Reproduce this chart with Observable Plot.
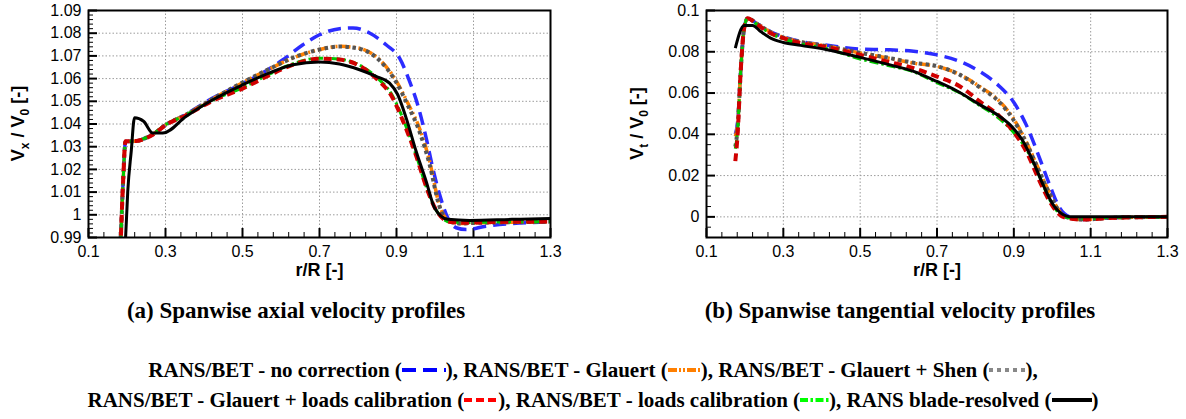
<!DOCTYPE html>
<html><head><meta charset="utf-8">
<script src="https://cdn.jsdelivr.net/npm/d3@7"></script>
<script src="https://cdn.jsdelivr.net/npm/@observablehq/plot@0.6"></script>
<style>
body{margin:0;background:#fff;}
#wrap{position:relative;width:1186px;height:419px;overflow:hidden;background:#fff;}
#left{position:absolute;left:0;top:0;}
#right{position:absolute;left:590px;top:0;}
.cap{position:absolute;font-family:"Liberation Serif","Times New Roman",serif;font-weight:bold;font-size:23px;white-space:nowrap;transform:translateX(-50%);line-height:26px;}
.leg{position:absolute;left:0;width:1186px;text-align:center;font-family:"Liberation Serif","Times New Roman",serif;font-weight:bold;font-size:21px;white-space:nowrap;line-height:26px;}
.leg svg{vertical-align:middle;position:relative;top:-2px;}
</style></head><body>
<div id="wrap">
  <div id="left"></div>
  <div id="right"></div>
  <div class="cap" style="left:296px;top:298px">(a) Spanwise axial velocity profiles</div>
  <div class="cap" style="left:900px;top:298px">(b) Spanwise tangential velocity profiles</div>
  <div class="leg" id="leg1" style="top:357px"></div>
  <div class="leg" id="leg2" style="top:387px"></div>
</div>
<script>
// ---------- Tick values & labels ----------
const xTicks = [0.1, 0.3, 0.5, 0.7, 0.9, 1.1, 1.3];
const xTickLabels = ["0.1", "0.3", "0.5", "0.7", "0.9", "1.1", "1.3"];
const axYTicks = [0.99, 1.00, 1.01, 1.02, 1.03, 1.04, 1.05, 1.06, 1.07, 1.08, 1.09];
const axYTickLabels = ["0.99", "1", "1.01", "1.02", "1.03", "1.04", "1.05", "1.06", "1.07", "1.08", "1.09"];
const tgYTicks = [0, 0.02, 0.04, 0.06, 0.08, 0.1];
const tgYTickLabels = ["0", "0.02", "0.04", "0.06", "0.08", "0.1"];

// ---------- Series names ----------
const seriesNames = [
  "RANS/BET - no correction",
  "RANS/BET - Glauert",
  "RANS/BET - Glauert + Shen",
  "RANS/BET - Glauert + loads calibration",
  "RANS/BET - loads calibration",
  "RANS blade-resolved"
];

// ---------- (a) Axial velocity Vx/V0 ----------
const axR_noCorr = [0.183,0.190,0.196,0.224,0.267,0.302,0.350,0.420,0.488,0.544,0.605,0.657,0.700,0.752,0.787,0.830,0.873,0.908,0.934,0.955,0.977,0.994,1.012,1.033,1.055,1.081,1.133,1.302];
const axV_noCorr = [0.985,1.015,1.0322,1.0325,1.0355,1.0398,1.0440,1.0512,1.0568,1.0617,1.0683,1.0749,1.0793,1.0820,1.0823,1.0801,1.0749,1.0690,1.0588,1.0485,1.0339,1.0207,1.0089,0.9987,0.9943,0.9935,0.9950,0.9969];

const axR_glauert = [0.183,0.190,0.196,0.224,0.267,0.302,0.350,0.420,0.500,0.570,0.630,0.700,0.752,0.800,0.856,0.900,0.930,0.960,0.986,1.011,1.037,1.070,1.100,1.200,1.300];
const axV_glauert = [0.985,1.015,1.0322,1.0325,1.0355,1.0398,1.0438,1.0508,1.0582,1.0642,1.0690,1.0728,1.0742,1.0735,1.0683,1.0588,1.0490,1.0380,1.0236,1.0045,0.9972,0.9962,0.9964,0.9967,0.9970];

const axR_glShen = [0.183,0.190,0.196,0.224,0.267,0.302,0.350,0.420,0.500,0.570,0.630,0.700,0.752,0.800,0.856,0.900,0.930,0.960,0.986,1.011,1.037,1.070,1.100,1.200,1.300];
const axV_glShen = [0.985,1.015,1.0322,1.0325,1.0355,1.0398,1.0438,1.0508,1.0583,1.0643,1.0691,1.0728,1.0741,1.0733,1.0680,1.0582,1.0480,1.0365,1.0222,1.0040,0.9970,0.9962,0.9964,0.9967,0.9970];

const axR_glLoads = [0.183,0.190,0.196,0.224,0.267,0.302,0.350,0.420,0.500,0.570,0.630,0.700,0.750,0.800,0.852,0.886,0.920,0.950,0.980,1.000,1.040,1.080,1.150,1.300];
const axV_glLoads = [0.985,1.015,1.0324,1.0325,1.0353,1.0397,1.0435,1.0500,1.0556,1.0615,1.0660,1.0688,1.0684,1.0660,1.0593,1.0527,1.0400,1.0265,1.0110,1.0030,0.9968,0.9965,0.9968,0.9970];

const axR_loads = [0.183,0.190,0.196,0.224,0.267,0.302,0.350,0.420,0.500,0.570,0.630,0.700,0.750,0.800,0.852,0.886,0.920,0.950,0.980,1.000,1.040,1.080,1.150,1.300];
const axV_loads = [0.985,1.015,1.0322,1.0326,1.0355,1.0399,1.0437,1.0503,1.0560,1.0620,1.0665,1.0690,1.0686,1.0663,1.0600,1.0535,1.0410,1.0268,1.0110,1.0030,0.9968,0.9966,0.9968,0.9970];

const axR_bladeRes = [0.195,0.202,0.211,0.2195,0.243,0.267,0.293,0.354,0.423,0.501,0.570,0.631,0.700,0.752,0.804,0.847,0.882,0.903,0.925,0.951,0.977,0.999,1.033,1.090,1.200,1.300];
const axV_bladeRes = [0.985,1.0104,1.028,1.0427,1.0412,1.036,1.036,1.0434,1.0507,1.0573,1.0625,1.0661,1.0673,1.0664,1.0639,1.061,1.058,1.053,1.0427,1.028,1.0148,1.003,0.998,0.9975,0.998,0.9984];

// ---------- (b) Tangential velocity Vt/V0 ----------
const tgR_noCorr = [0.175,0.181,0.189,0.198,0.207,0.233,0.267,0.300,0.345,0.414,0.500,0.570,0.639,0.700,0.760,0.811,0.863,0.898,0.932,0.967,0.993,1.019,1.045,1.080,1.150,1.300];
const tgV_noCorr = [0.040,0.046,0.0705,0.0915,0.0960,0.0935,0.0897,0.0873,0.0850,0.0832,0.0813,0.0810,0.0802,0.0785,0.0753,0.0705,0.0632,0.0560,0.0447,0.0285,0.0156,0.0044,0.0000,-0.0013,-0.0005,0.0000];

const tgR_glauert = [0.175,0.181,0.189,0.198,0.207,0.233,0.267,0.300,0.345,0.414,0.500,0.570,0.639,0.700,0.760,0.811,0.863,0.898,0.932,0.967,0.993,1.019,1.045,1.080,1.150,1.300];
const tgV_glauert = [0.039,0.045,0.0705,0.0915,0.0960,0.0935,0.0895,0.0870,0.0848,0.0828,0.0794,0.0770,0.0745,0.0729,0.0689,0.0632,0.0560,0.0479,0.0366,0.0221,0.0116,0.0027,-0.0005,-0.0013,-0.0005,0.0000];

const tgR_glShen = [0.175,0.181,0.189,0.198,0.207,0.233,0.267,0.300,0.345,0.414,0.500,0.570,0.639,0.700,0.760,0.811,0.863,0.898,0.932,0.967,0.993,1.019,1.045,1.080,1.150,1.300];
const tgV_glShen = [0.034,0.043,0.0705,0.0915,0.0961,0.0934,0.0894,0.0869,0.0847,0.0827,0.0795,0.0772,0.0747,0.0730,0.0688,0.0628,0.0555,0.0473,0.0360,0.0216,0.0112,0.0025,-0.0006,-0.0013,-0.0005,0.0000];

const tgR_glLoads = [0.175,0.181,0.189,0.198,0.207,0.233,0.267,0.300,0.345,0.414,0.500,0.570,0.639,0.700,0.760,0.811,0.863,0.898,0.932,0.967,0.993,1.019,1.045,1.080,1.150,1.300];
const tgV_glLoads = [0.027,0.040,0.0705,0.0915,0.0963,0.0930,0.0890,0.0866,0.0842,0.0822,0.0785,0.0753,0.0721,0.0680,0.0632,0.0560,0.0487,0.0415,0.0318,0.0173,0.0076,0.0011,-0.0008,-0.0013,-0.0005,0.0000];

const tgR_loads = [0.175,0.181,0.189,0.198,0.207,0.233,0.267,0.300,0.345,0.414,0.500,0.570,0.639,0.700,0.760,0.811,0.863,0.898,0.932,0.967,0.993,1.019,1.045,1.080,1.150,1.300];
const tgV_loads = [0.033,0.042,0.0705,0.0915,0.0962,0.0930,0.0888,0.0862,0.0838,0.0815,0.0765,0.0735,0.0703,0.0650,0.0600,0.0540,0.0475,0.0412,0.0330,0.0195,0.0085,0.0015,-0.0005,-0.0010,-0.0003,0.0000];

const tgR_bladeRes = [0.175,0.198,0.2197,0.241,0.267,0.300,0.345,0.414,0.500,0.570,0.639,0.700,0.751,0.811,0.863,0.898,0.924,0.950,0.976,1.002,1.028,1.045,1.100,1.200,1.300];
const tgV_bladeRes = [0.0818,0.0927,0.0927,0.0898,0.0866,0.0845,0.0831,0.0810,0.0773,0.0740,0.0705,0.0656,0.0611,0.0544,0.0487,0.0431,0.0366,0.0269,0.0156,0.0060,0.0011,0.0000,0.0000,0.0000,0.0000];

// ---------- Styles ----------
const plotColors   = ["#2c2cff", "#ff8000", "#555555", "#d00000", "#00c800", "#000000"];
const legendColors = ["#0000ff", "#ff7f00", "#888888", "#ff0000", "#00ff00", "#000000"];
const dashes = ["13,7", "10,3,2,3,2,3", "3.5,3.5", "8,5", "9,3,2.5,3", null];
const widths = [3.5, 3.5, 4, 4, 3, 3];
const drawOrder = [0, 1, 2, 4, 3, 5];

const FONT = "'Liberation Sans', Arial, sans-serif";

function toRows(rs, vs) { return rs.map((r, i) => ({r, v: vs[i]})); }

function panel({series, yDomain, yTicks, yTickLabels, yMinorStep, width, mL, mR, ySub, labelX}) {
  const height = 290, mT = 10, mB = 53;
  const H = height - mT - mB, W = width - mL - mR;
  const xLab = new Map(xTicks.map((d, i) => [d, xTickLabels[i]]));
  const yLab = new Map(yTicks.map((d, i) => [d, yTickLabels[i]]));
  const xMinor = d3.range(0, 31).map(i => +(0.1 + i * 0.04).toFixed(3)).filter(d => !xTicks.some(t => Math.abs(t - d) < 1e-6));
  const nY = Math.round((yDomain[1] - yDomain[0]) / yMinorStep);
  const yMinor = d3.range(0, nY + 1).map(i => +(yDomain[0] + i * yMinorStep).toFixed(4)).filter(d => !yTicks.some(t => Math.abs(t - d) < 1e-6) && d > yDomain[0] + 1e-6 && d < yDomain[1] - 1e-6);
  const lineMarks = drawOrder.map(k => Plot.line(series[k], {
    x: "r", y: "v", stroke: plotColors[k], strokeWidth: widths[k],
    strokeDasharray: dashes[k], curve: "monotone-x", clip: true,
    strokeLinecap: "butt", strokeLinejoin: "round"
  }));
  const svg = Plot.plot({
    width, height, marginLeft: mL, marginRight: mR, marginTop: mT, marginBottom: mB,
    style: {fontFamily: FONT, fontSize: "16px", color: "#000", background: "transparent"},
    x: {domain: [0.1, 1.3]},
    y: {domain: yDomain},
    marks: [
      Plot.gridX(xTicks, {stroke: "#9c9c9c", strokeOpacity: 1, strokeDasharray: "1.5,2", strokeWidth: 1}),
      Plot.gridY(yTicks, {stroke: "#9c9c9c", strokeOpacity: 1, strokeDasharray: "1.5,2", strokeWidth: 1}),
      Plot.axisX(xTicks, {tickSize: 0, tickPadding: 8, tickFormat: d => xLab.get(d), fontSize: 16, label: null}),
      Plot.axisY(yTicks, {tickSize: 0, tickPadding: 7, tickFormat: d => yLab.get(d), fontSize: 16, label: null}),
      Plot.tickX(xTicks, {x: d => d, insetTop: H - 9, stroke: "#000", strokeWidth: 2}),
      Plot.tickX(xMinor, {x: d => d, insetTop: H - 5, stroke: "#000", strokeWidth: 1}),
      Plot.tickY(yTicks, {y: d => d, insetRight: W - 9, stroke: "#000", strokeWidth: 2}),
      Plot.tickY(yMinor, {y: d => d, insetRight: W - 5, stroke: "#000", strokeWidth: 1}),
      ...lineMarks,
      Plot.frame({stroke: "#000", strokeWidth: 2}),
      Plot.text(["r/R [-]"], {frameAnchor: "bottom", dy: 38, fontWeight: "bold", fontSize: 18, fill: "#000"})
    ]
  });
  // y-axis label with subscripts
  const t = d3.select(svg).append("text")
    .attr("transform", `translate(${labelX},${mT + H / 2}) rotate(-90)`)
    .attr("text-anchor", "middle").attr("dominant-baseline", "middle")
    .attr("font-family", FONT).attr("font-weight", "bold").attr("font-size", 18).attr("fill", "#000");
  t.append("tspan").text("V");
  t.append("tspan").attr("baseline-shift", "sub").attr("font-size", 12).text(ySub);
  t.append("tspan").text(" / V");
  t.append("tspan").attr("baseline-shift", "sub").attr("font-size", 12).text("0");
  t.append("tspan").text(" [-]");
  return svg;
}

const axSeries = [
  toRows(axR_noCorr, axV_noCorr), toRows(axR_glauert, axV_glauert), toRows(axR_glShen, axV_glShen),
  toRows(axR_glLoads, axV_glLoads), toRows(axR_loads, axV_loads), toRows(axR_bladeRes, axV_bladeRes)
];
const tgSeries = [
  toRows(tgR_noCorr, tgV_noCorr), toRows(tgR_glauert, tgV_glauert), toRows(tgR_glShen, tgV_glShen),
  toRows(tgR_glLoads, tgV_glLoads), toRows(tgR_loads, tgV_loads), toRows(tgR_bladeRes, tgV_bladeRes)
];

document.getElementById("left").appendChild(panel({
  series: axSeries, yDomain: [0.99, 1.09], yTicks: axYTicks, yTickLabels: axYTickLabels,
  yMinorStep: 0.002, width: 590, mL: 88, mR: 40, ySub: "x", labelX: 19
}));
document.getElementById("right").appendChild(panel({
  series: tgSeries, yDomain: [-0.01, 0.1], yTicks: tgYTicks, yTickLabels: tgYTickLabels,
  yMinorStep: 0.005, width: 596, mL: 116, mR: 19, ySub: "t", labelX: 48
}));

// ---------- Legend ----------
const sampleW = [44, 33, 36, 34, 29, 40];
function sample(k) {
  const w = sampleW[k];
  const dash = [ "14,7", "9,2,2,2,2,2", "4,4", "8,4", "8,2.5,2.5,2.5", null ][k];
  return `<svg width="${w}" height="12"><line x1="0" y1="6" x2="${w}" y2="6" stroke="${legendColors[k]}" stroke-width="4"${dash ? ` stroke-dasharray="${dash}"` : ""}/></svg>`;
}
document.getElementById("leg1").innerHTML =
  `${seriesNames[0]} (${sample(0)}), ${seriesNames[1]} (${sample(1)}), ${seriesNames[2]} (${sample(2)}),`;
document.getElementById("leg2").innerHTML =
  `${seriesNames[3]} (${sample(3)}), ${seriesNames[4]} (${sample(4)}), ${seriesNames[5]} (${sample(5)})`;
</script>
</body></html>
